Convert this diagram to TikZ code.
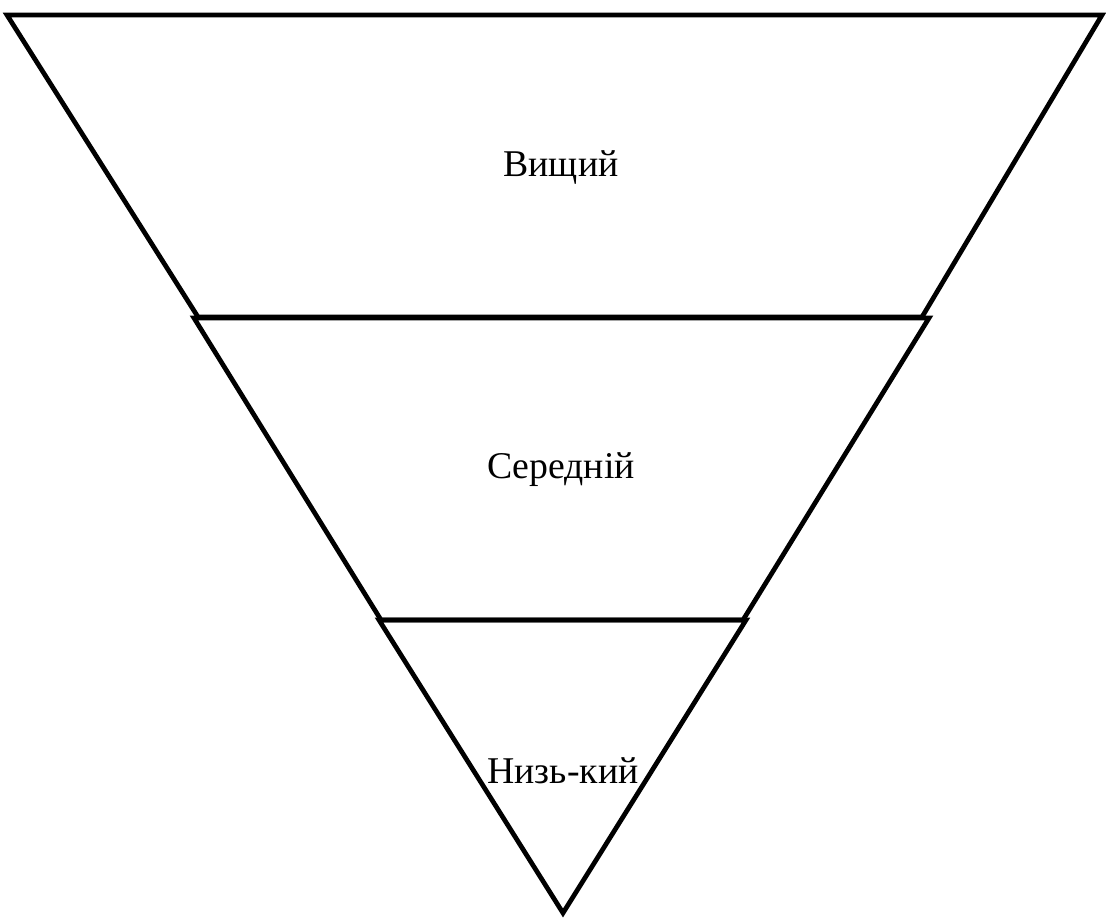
\documentclass[tikz,border=0pt]{standalone}
\usepackage{fontspec}
\setmainfont{Liberation Serif}
\usetikzlibrary{positioning}

\begin{document}
\begin{tikzpicture}[
    x=0.02cm, y=-0.02cm,
    level/.style={draw=black, line width=2.7pt, line join=miter},
    label/.style={font=\fontsize{21.5}{25}\selectfont, inner sep=0pt}
  ]
  \useasboundingbox (0,0) rectangle (1106,920);

  % Niveles del triángulo invertido
  \draw[level] (7,15) -- (1102,15) -- (922,317) -- (198,317) -- cycle;
  \draw[level] (194,318) -- (929,318) -- (743,620) -- (381,620) -- cycle;
  \draw[level] (379,620) -- (746,620) -- (563,913) -- cycle;

  % Etiquetas
  \node[label] (top) at (561,167) {Вищий};
  \node[label] (mid) at (561,470) {Середній};
  \node[label] (low) at (563,771) {Низь-кий};
\end{tikzpicture}
\end{document}
